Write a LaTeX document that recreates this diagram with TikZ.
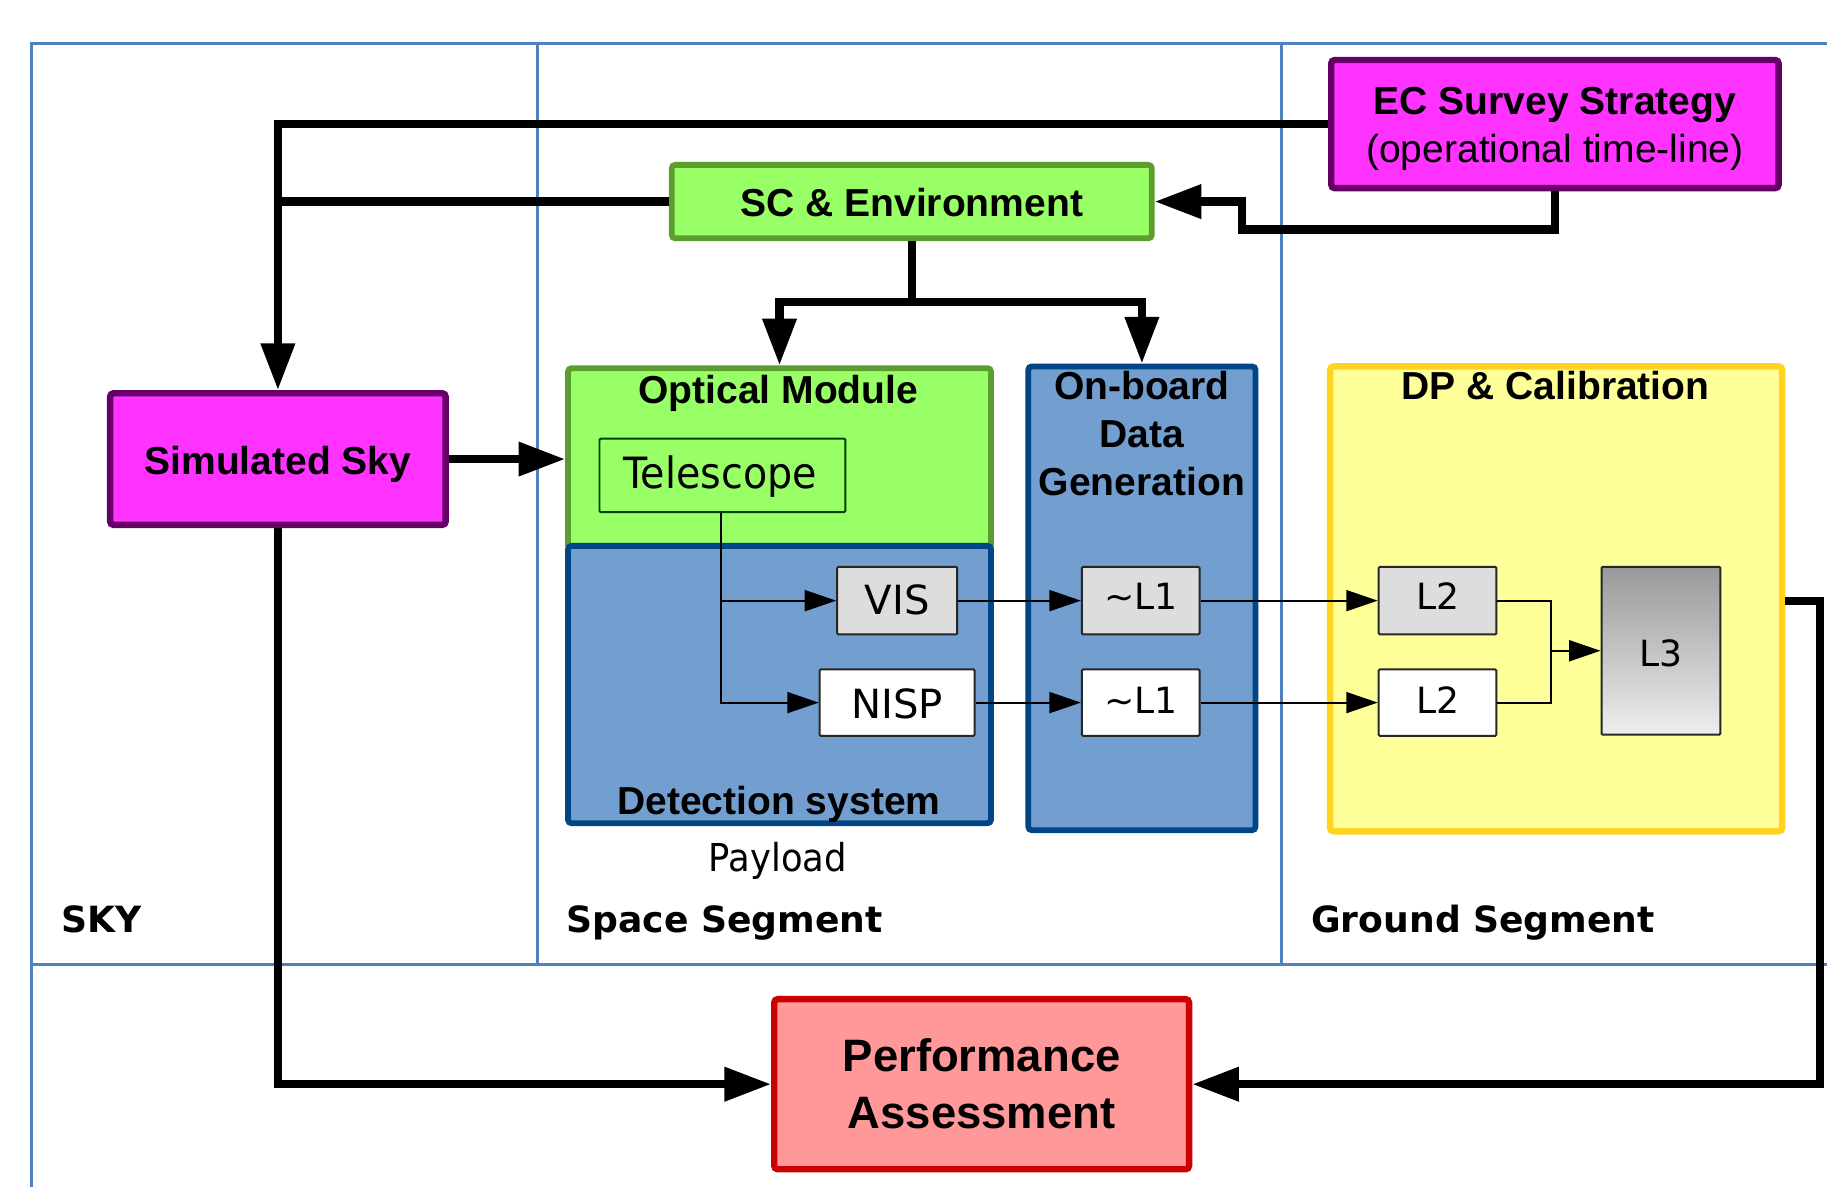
\documentclass[tikz,border=0pt]{standalone}
\usepackage{fontspec}
\setmainfont{Liberation Sans}
\newfontfamily\dvs{DejaVu Sans}
\newfontfamily\dvsc[FakeStretch=0.92]{DejaVu Sans}
\usetikzlibrary{arrows.meta}
\definecolor{magfill}{HTML}{FF33FF}
\definecolor{magline}{HTML}{660066}
\definecolor{grnfill}{HTML}{99FF66}
\definecolor{grnline}{HTML}{5C9E2E}
\definecolor{bluefill}{HTML}{729FCF}
\definecolor{blueline}{HTML}{004586}
\definecolor{yelfill}{HTML}{FFFF99}
\definecolor{yelline}{HTML}{FFD320}
\definecolor{redfill}{HTML}{FF9999}
\definecolor{redline}{HTML}{CC0000}
\definecolor{frameblue}{HTML}{4F81BD}
\definecolor{boxgray}{HTML}{DDDDDD}
\definecolor{lthree}{HTML}{999999}
\definecolor{lthreeb}{HTML}{EEEEEE}
\begin{document}
\begin{tikzpicture}[x=1pt,y=1pt,
  bigbox/.style={draw, rectangle, inner sep=0pt, line width=5.5pt, rounded corners=3pt},
  magbox/.style={bigbox, fill=magfill, draw=magline},
  grnbox/.style={bigbox, fill=grnfill, draw=grnline, line width=5pt},
  bluebox/.style={bigbox, fill=bluefill, draw=blueline, line width=5pt},
  yelbox/.style={bigbox, fill=yelfill, draw=yelline},
  redbox/.style={bigbox, fill=redfill, draw=redline},
  smallbox/.style={draw=black!85, rectangle, inner sep=0pt, line width=1.7pt, rounded corners=1pt},
  title/.style={anchor=base, inner sep=0pt, font=\fontsize{33.5}{40}\selectfont\bfseries},
  plain/.style={anchor=base, inner sep=0pt, font=\fontsize{33.5}{40}\selectfont},
  inner/.style={anchor=base, inner sep=0pt, font=\dvs\fontsize{31}{36}\selectfont},
  seg/.style={anchor=base west, inner sep=0pt, font=\dvs\bfseries\fontsize{31}{37}\selectfont},
  conn/.style={line width=7pt, -{Triangle[length=40pt,width=28pt]}},
  plainconn/.style={line width=7pt},
  thinconn/.style={line width=1.7pt, -{Triangle[length=27pt,width=18pt]}},
  thinline/.style={line width=1.7pt},
  frame/.style={draw=frameblue, line width=2.5pt}
]
\useasboundingbox (0,0) rectangle (1568,-1019);
\fill[white] (0,0) rectangle (1568,-1019);

% frame
\draw[frame] (27,-1019) -- (27,-37) -- (1568,-37);
\draw[frame] (27,-827.5) -- (1568,-827.5);
\draw[frame] (461,-37) -- (461,-827.5);
\draw[frame] (1099.5,-37) -- (1099.5,-827.5);

% boxes
\node[magbox, minimum width=384pt, minimum height=110pt] (ec) at (1334.5,-106.5) {};
\node[grnbox, minimum width=412pt, minimum height=63pt] (sc) at (782.5,-173) {};
\node[magbox, minimum width=288pt, minimum height=113pt] (sky) at (238.5,-394) {};
\node[grnbox, minimum width=363pt, minimum height=155pt] (optical) at (669,-393.5) {};
\node[bluebox, minimum width=363pt, minimum height=238pt] (detect) at (669,-587.5) {};
\node[smallbox, draw=black!75!green, fill=grnfill, minimum width=211pt, minimum height=63pt] (telescope) at (620,-408) {};
\node[bluebox, minimum width=195pt, minimum height=398pt] (onboard) at (980,-513.5) {};
\node[yelbox, minimum width=388pt, minimum height=399pt] (dp) at (1335.5,-514) {};
\node[redbox, minimum width=356pt, minimum height=146pt] (perf) at (842.5,-930.5) {};

\node[smallbox, fill=boxgray, minimum width=103pt, minimum height=58pt] (vis) at (770,-515.5) {};
\node[smallbox, fill=white, minimum width=133pt, minimum height=57pt] (nisp) at (770,-603) {};
\node[smallbox, fill=boxgray, minimum width=101pt, minimum height=58pt] (l1a) at (979,-515.5) {};
\node[smallbox, fill=white, minimum width=101pt, minimum height=57pt] (l1b) at (979,-603) {};
\node[smallbox, fill=boxgray, minimum width=101pt, minimum height=58pt] (l2a) at (1233.75,-515.5) {};
\node[smallbox, fill=white, minimum width=101pt, minimum height=57pt] (l2b) at (1233.75,-603) {};
\node[smallbox, top color=lthree, bottom color=lthreeb, minimum width=102pt, minimum height=144pt] (l3) at (1425.5,-558.5) {};

% texts
\node[title] (tec1) at (1334.5,-98.5) {EC Survey Strategy};
\node[plain] (tec2) at (1334.5,-139.6) {(operational time-line)};
\node[title] (tsc) at (782.5,-185.6) {SC \& Environment};
\node[title] (tsky) at (238.5,-407) {Simulated Sky};
\node[title] (topt) at (668,-346.5) {Optical Module};
\node[inner, font=\dvsc\fontsize{37}{40}\selectfont] (ttel) at (618,-419) {Telescope};
\node[inner, font=\dvs\fontsize{34.5}{40}\selectfont] (tvis) at (770,-527.8) {VIS};
\node[inner, font=\dvs\fontsize{34.5}{40}\selectfont] (tnisp) at (770,-616.5) {NISP};
\node[inner] (tl1a) at (979,-523.5) {\textasciitilde L1};
\node[inner] (tl1b) at (979,-612.2) {\textasciitilde L1};
\node[inner] (tl2a) at (1233.75,-523.5) {L2};
\node[inner] (tl2b) at (1233.75,-612.2) {L2};
\node[inner] (tl3) at (1425.5,-572.2) {L3};
\node[title] (tdet) at (668.5,-698.6) {Detection system};
\node[inner, font=\dvsc\fontsize{33}{40}\selectfont] (tpay) at (667.5,-748.1) {Payload};
\node[title] (tob1) at (980,-343.2) {On-board};
\node[title] (tob2) at (980,-384.3) {Data};
\node[title] (tob3) at (980,-425.3) {Generation};
\node[title] (tdp) at (1335,-343.2) {DP \& Calibration};
\node[title, font=\fontsize{39}{46}\selectfont\bfseries] (tperf1) at (842.5,-919.7) {Performance};
\node[title, font=\fontsize{39}{46}\selectfont\bfseries] (tperf2) at (842.5,-968.4) {Assessment};
\node[seg] (tskyseg) at (52.9,-800.1) {SKY};
\node[seg] (tspace) at (486,-800.5) {Space Segment};
\node[seg] (tground) at (1125.2,-800.5) {Ground Segment};

% coordinates for bends
\coordinate (ecbend) at (1066,-197);
\coordinate (scsplit) at (782.5,-259);
\coordinate (rightbend) at (1562,-515.5);
\coordinate (ljoin) at (1330.7,-558.5);

% thick connectors
\draw[conn] (ec.west) -| (sky.north);
\draw[plainconn] (sc.west) -- (sc.west -| sky.north);
\draw[conn] (ec.south) |- (ecbend) |- (sc.east);
\draw[plainconn] (sc.south) -- (scsplit);
\draw[conn] (scsplit) -| (optical.north);
\draw[conn] (scsplit) -| (onboard.north);
\draw[conn] (sky.east) -- (sky.east -| optical.west);
\draw[conn] (sky.south) |- (perf.west);
\draw[conn] (dp.east |- l2a.east) -- (rightbend) |- (perf.east);

% thin connectors
\draw[thinconn] ([xshift=-1.5pt]telescope.south) |- (vis.west);
\draw[thinconn] ([xshift=-1.5pt]telescope.south) |- (nisp.west);
\draw[thinconn] (vis.east) -- (l1a.west);
\draw[thinconn] (nisp.east) -- (l1b.west);
\draw[thinconn] (l1a.east) -- (l2a.west);
\draw[thinconn] (l1b.east) -- (l2b.west);
\draw[thinline] (l2a.east) -| (ljoin);
\draw[thinline] (l2b.east) -| (ljoin);
\draw[thinconn] (ljoin) -- (l3.west);
\end{tikzpicture}
\end{document}
